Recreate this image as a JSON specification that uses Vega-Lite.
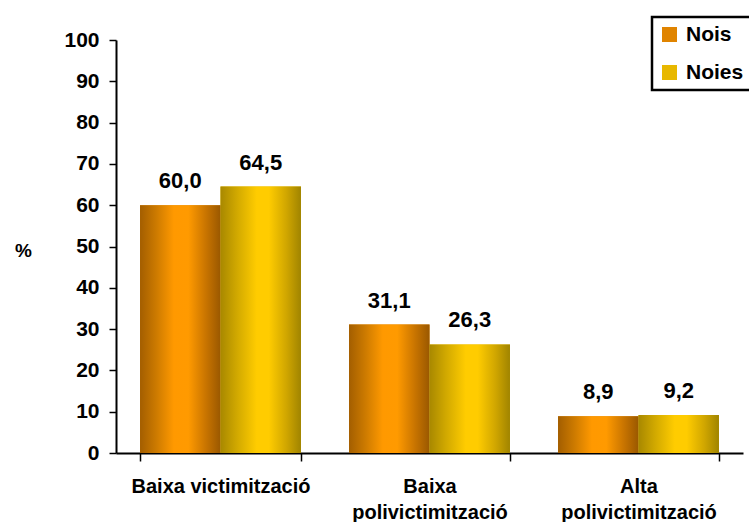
{
 "$schema": "https://vega.github.io/schema/vega-lite/v6.json",
 "width": 627, "height": 413,
 "autosize": "none",
 "padding": {"left": 116, "top": 40, "right": 6, "bottom": 69},
 "config": {
   "locale": {"number": {"decimal": ",", "thousands": ".", "grouping": [3], "currency": ["", "€"]}},
   "view": {"stroke": null},
   "font": "Liberation Sans",
   "legend": {"strokeWidth": 2.5}
 },
 "data": {"values": [
  {"cat": "Baixa victimització", "grup": "Nois", "pct": 60.0},
  {"cat": "Baixa victimització", "grup": "Noies", "pct": 64.5},
  {"cat": "Baixa polivictimització", "grup": "Nois", "pct": 31.1},
  {"cat": "Baixa polivictimització", "grup": "Noies", "pct": 26.3},
  {"cat": "Alta polivictimització", "grup": "Nois", "pct": 8.9},
  {"cat": "Alta polivictimització", "grup": "Noies", "pct": 9.2}
 ]},
 "encoding": {
  "x": {"field": "cat", "type": "nominal", "sort": null,
        "scale": {"paddingInner": 0.23, "paddingOuter": 0.115},
        "axis": {"title": null, "labelAngle": 0, "labelFontSize": 20, "labelFontWeight": "bold", "labelColor": "black",
                 "labelLineHeight": 26, "labelPadding": 15, "tickBand": "extent", "tickSize": 8, "tickColor": "black", "tickWidth": 1.5,
                 "domainColor": "black", "domainWidth": 2, "grid": false,
                 "labelExpr": "datum.label == 'Baixa victimització' ? datum.label : split(datum.label, ' ')"}},
  "xOffset": {"field": "grup", "sort": ["Nois", "Noies"]},
  "y": {"field": "pct", "type": "quantitative", "scale": {"domain": [0, 100]},
        "axis": {"title": "%", "titleAngle": 0, "titleX": -93, "titleY": 210, "titleAlign": "center", "titleBaseline": "middle",
                 "titleFontSize": 19, "titleFontWeight": "bold", "titleColor": "black",
                 "values": [0,10,20,30,40,50,60,70,80,90,100], "labelFontSize": 21, "labelFontWeight": "bold", "labelColor": "black",
                 "tickSize": 7, "tickColor": "black", "tickWidth": 1.5, "domainColor": "black", "domainWidth": 2, "grid": false, "labelPadding": 10}}
 },
 "layer": [
  {"mark": {"type": "bar"},
   "encoding": {"color": {"field": "grup", "type": "nominal", "sort": ["Nois", "Noies"],
     "scale": {"domain": ["Nois", "Noies"], "range": ["#e08400", "#e8b800"]},
     "legend": {"title": null, "orient": "none", "legendX": 536, "legendY": -23, "strokeColor": "black", "padding": 7,
                "symbolType": "square", "symbolSize": 225, "symbolStrokeWidth": 0, "labelFontSize": 21, "labelFontWeight": "bold",
                "labelColor": "black", "rowPadding": 16, "labelOffset": 6}}}},
  {"mark": {"type": "bar"},
   "encoding": {"fill": {"condition": {"test": "datum.grup == 'Nois'", "value":
       {"gradient": "linear", "x1": 0, "y1": 0, "x2": 1, "y2": 0, "stops": [
         {"offset": 0, "color": "#a35e00"}, {"offset": 0.2, "color": "#cc7a00"}, {"offset": 0.42, "color": "#ff9900"},
         {"offset": 0.6, "color": "#ff9a00"}, {"offset": 0.82, "color": "#c87400"}, {"offset": 1, "color": "#9a5800"}]}},
     "value":
       {"gradient": "linear", "x1": 0, "y1": 0, "x2": 1, "y2": 0, "stops": [
         {"offset": 0, "color": "#a88800"}, {"offset": 0.2, "color": "#d0a800"}, {"offset": 0.45, "color": "#ffcc00"},
         {"offset": 0.6, "color": "#ffcc00"}, {"offset": 0.82, "color": "#d0a600"}, {"offset": 1, "color": "#a08400"}]}}}},
  {"mark": {"type": "text", "dy": -24, "baseline": "middle", "fontSize": 22, "fontWeight": "bold", "color": "black"},
   "encoding": {"text": {"field": "pct", "type": "quantitative", "format": ".1f"}}}
 ]
}
